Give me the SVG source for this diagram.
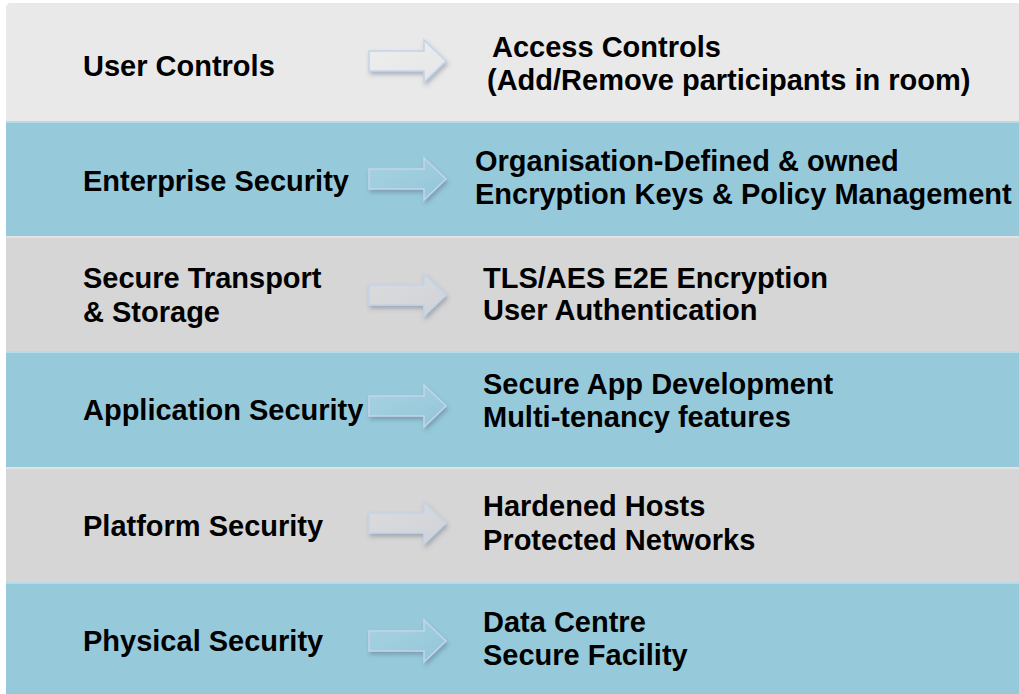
<svg xmlns="http://www.w3.org/2000/svg" width="1019" height="694" viewBox="0 0 1019 694">
<style>
.t{font-family:"Liberation Sans",Arial,sans-serif;font-weight:bold;font-size:29px;fill:#000}
.light{fill:#e9e9e9}
.blue{fill:#96cadb}
.gray{fill:#d6d6d6}
.hl{fill:#b4dbe8}
.arrow{stroke:#c3d4ea;stroke-width:1.5;filter:url(#sh)}
</style>
<defs>
<filter id="sh" x="-20%" y="-30%" width="150%" height="180%">
<feDropShadow dx="1.5" dy="3" stdDeviation="2" flood-color="#40506a" flood-opacity="0.35"/>
</filter>
<linearGradient id="gBlue" x1="0" y1="0" x2="1" y2="1">
<stop offset="0" stop-color="#a7d3e2"/>
<stop offset="1" stop-color="#93c6d8"/>
</linearGradient>
<linearGradient id="gGray" x1="0" y1="0" x2="1" y2="1">
<stop offset="0" stop-color="#dcdcde"/>
<stop offset="1" stop-color="#d0d2d6"/>
</linearGradient>
<linearGradient id="gLight" x1="0" y1="0" x2="1" y2="1">
<stop offset="0" stop-color="#eeeeee"/>
<stop offset="1" stop-color="#e6e6e8"/>
</linearGradient>
<path id="arr" d="M0,-10 H55 V-21 L77,0 L55,21 V10 H0 Z"/>
</defs>
<rect width="1019" height="694" fill="#ffffff"/>

<g id="row-user-controls">
<path class="light" d="M9,3 H1019 V121 H6 V6 Z"/>
<text class="t" x="83" y="76">User Controls</text>
<text class="t" x="492" y="57">Access Controls</text>
<text class="t" x="487" y="90">(Add/Remove participants in room)</text>
</g>

<g id="row-enterprise-security">
<rect class="blue" x="6" y="121" width="1013" height="115"/>
<rect class="hl" x="6" y="121" width="1013" height="2"/>
<text class="t" x="83" y="191">Enterprise Security</text>
<text class="t" x="475" y="171">Organisation-Defined &amp; owned</text>
<text class="t" x="475" y="204">Encryption Keys &amp; Policy Management</text>
</g>

<g id="row-secure-transport">
<rect class="gray" x="6" y="236" width="1013" height="115"/>
<rect x="6" y="236" width="1013" height="2" fill="#e2e2e2"/>
<text class="t" x="83" y="288">Secure Transport</text>
<text class="t" x="83" y="322">&amp; Storage</text>
<text class="t" x="483" y="288">TLS/AES E2E Encryption</text>
<text class="t" x="483" y="320">User Authentication</text>
</g>

<g id="row-application-security">
<rect class="blue" x="6" y="351" width="1013" height="116"/>
<rect class="hl" x="6" y="351" width="1013" height="2"/>
<text class="t" x="83" y="420">Application Security</text>
<text class="t" x="483" y="394">Secure App Development</text>
<text class="t" x="483" y="427">Multi-tenancy features</text>
</g>

<g id="row-platform-security">
<rect class="gray" x="6" y="467" width="1013" height="115"/>
<rect x="6" y="467" width="1013" height="2" fill="#e2e2e2"/>
<text class="t" x="83" y="536">Platform Security</text>
<text class="t" x="483" y="516">Hardened Hosts</text>
<text class="t" x="483" y="550">Protected Networks</text>
</g>

<g id="row-physical-security">
<rect class="blue" x="6" y="582" width="1013" height="112"/>
<rect class="hl" x="6" y="582" width="1013" height="2"/>
<text class="t" x="83" y="651">Physical Security</text>
<text class="t" x="483" y="632">Data Centre</text>
<text class="t" x="483" y="665">Secure Facility</text>
</g>

<g id="connectors">
<use href="#arr" class="arrow" fill="url(#gLight)" transform="translate(369,61)"/>
<use href="#arr" class="arrow" fill="url(#gBlue)" transform="translate(369,179)"/>
<use href="#arr" class="arrow" fill="url(#gGray)" transform="translate(369,295)"/>
<use href="#arr" class="arrow" fill="url(#gBlue)" transform="translate(369,406)"/>
<use href="#arr" class="arrow" fill="url(#gGray)" transform="translate(369,523)"/>
<use href="#arr" class="arrow" fill="url(#gBlue)" transform="translate(369,641)"/>
</g>
</svg>
